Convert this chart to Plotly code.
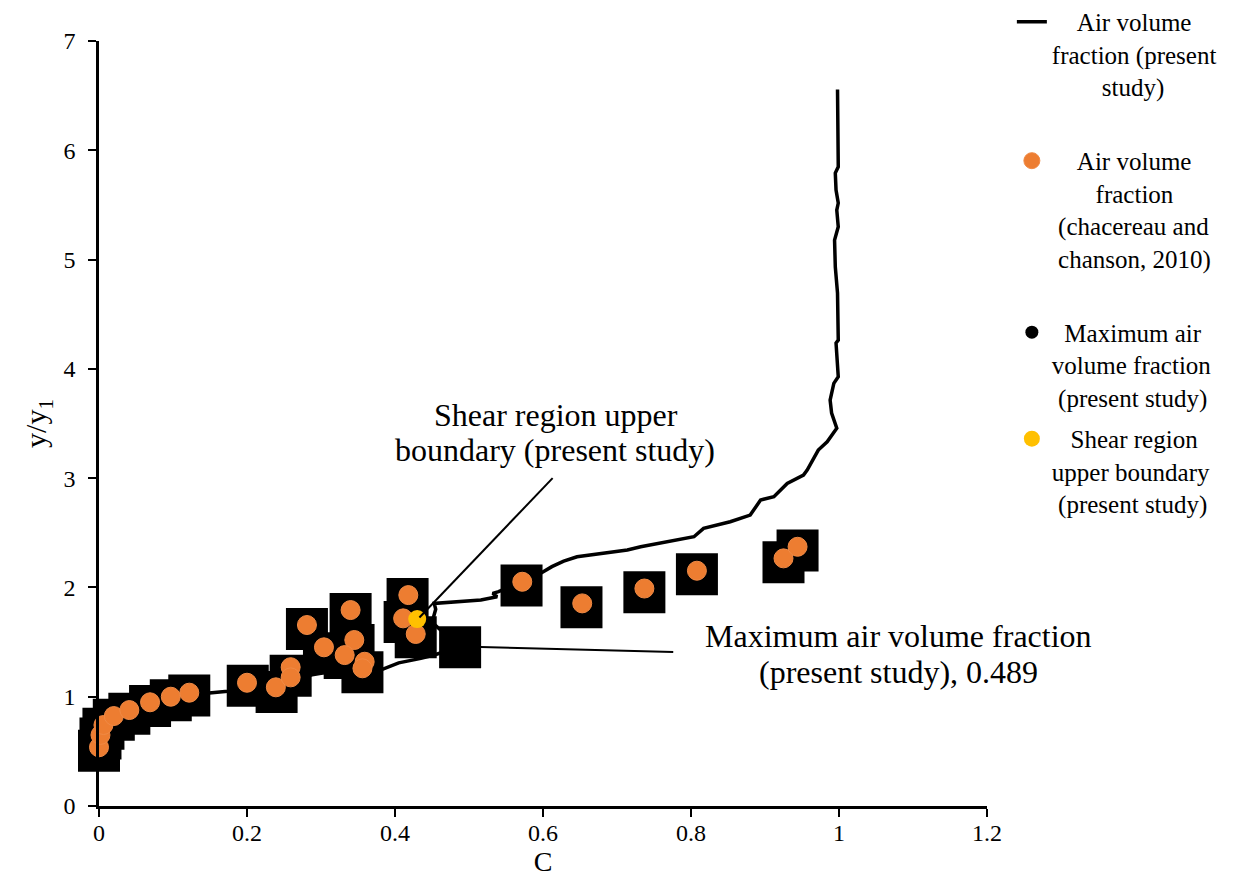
import plotly.graph_objects as go

# Air volume fraction profile (present study)
curve_c = [0.000, 0.003, 0.012, 0.030, 0.060, 0.100, 0.149, 0.174, 0.210, 0.250, 0.288, 0.304,
           0.340, 0.383, 0.405, 0.435, 0.453, 0.489, 0.470, 0.450, 0.455, 0.453, 0.516, 0.538,
           0.532, 0.540, 0.597, 0.612, 0.628, 0.646, 0.714, 0.732, 0.804, 0.817, 0.853, 0.880,
           0.894, 0.912, 0.930, 0.952, 0.957, 0.972, 0.984, 0.997, 0.990, 0.988, 0.993, 0.999,
           0.996, 0.999, 0.998, 0.995, 0.994, 0.999, 0.997, 0.999, 0.996, 0.995, 0.999, 0.998]
curve_y = [0.45, 0.60, 0.72, 0.82, 0.90, 0.96, 1.035, 1.050, 1.080, 1.130, 1.200, 1.220,
           1.225, 1.250, 1.310, 1.351, 1.382, 1.460, 1.560, 1.680, 1.800, 1.854, 1.885, 1.915,
           1.945, 1.961, 2.130, 2.190, 2.240, 2.281, 2.342, 2.372, 2.464, 2.541, 2.601, 2.662,
           2.800, 2.830, 2.952, 3.028, 3.074, 3.257, 3.333, 3.456, 3.596, 3.715, 3.867, 3.928,
           4.236, 4.263, 4.693, 4.934, 5.178, 5.300, 5.453, 5.517, 5.636, 5.792, 5.849, 6.557]

# Chacereau and Chanson (2010) data
chanson_c = [0.000, 0.002, 0.006, 0.020, 0.041, 0.069, 0.097, 0.122,
             0.200, 0.239, 0.259, 0.259, 0.281, 0.304, 0.340, 0.345, 0.332, 0.359, 0.356,
             0.418, 0.411, 0.428, 0.572, 0.653, 0.737, 0.808, 0.925, 0.944]
chanson_y = [0.537, 0.650, 0.741, 0.823, 0.878, 0.949, 1.000, 1.037,
             1.128, 1.086, 1.270, 1.177, 1.656, 1.452, 1.793, 1.519, 1.381, 1.320, 1.260,
             1.930, 1.717, 1.574, 2.052, 1.854, 1.990, 2.153, 2.266, 2.372]

# black square markers
square_c = [0.000, 0.002, 0.006, 0.020, 0.041, 0.069, 0.097, 0.122,
            0.201, 0.240, 0.259, 0.281, 0.304, 0.340, 0.344, 0.332, 0.356,
            0.417, 0.413, 0.428, 0.488, 0.571, 0.652, 0.737, 0.808, 0.925, 0.944]
square_y = [0.505, 0.617, 0.708, 0.790, 0.845, 0.916, 0.967, 1.010,
            1.101, 1.043, 1.192, 1.619, 1.397, 1.757, 1.473, 1.354, 1.223,
            1.894, 1.683, 1.543, 1.452, 2.017, 1.818, 1.955, 2.120, 2.230, 2.338]

# Maximum air volume fraction (present study)
max_c = [0.489]
max_y = [1.46]

# Shear region upper boundary (present study)
shear_c = [0.430]
shear_y = [1.710]

# callout text lines and their anchors (data units), leader tails
shear_lines = ["Shear region upper", "boundary (present study)"]
shear_line_c = [0.618, 0.616]
shear_line_y = [3.577, 3.257]
shear_tail = (0.613, 3.0)
shear_head = (0.433, 1.725)
max_lines = ["Maximum air volume fraction", "(present study), 0.489"]
max_line_c = [1.080, 1.080]
max_line_y = [1.555, 1.226]
max_tail = (0.776, 1.409)

FONT = "Times New Roman, Liberation Serif, serif"
NB = "\u00a0"

def pad(lines, counts):
    return "<br>".join(NB * n + s for s, n in zip(lines, counts))

fig = go.Figure()
fig.add_trace(go.Scatter(
    x=curve_c, y=curve_y, mode="lines", line=dict(color="black", width=3.5),
    name=pad(["Air volume", "fraction (present", "study)", NB], [4, 0, 8, 0]),
    legendgroup="a", legendrank=1))
fig.add_trace(go.Scatter(
    x=max_c, y=max_y, mode="markers", marker=dict(color="black", size=13),
    name=pad(["Maximum air", "volume fraction", "(present study)"], [2, 0, 1]),
    legendgroup="c", legendrank=3))
fig.add_trace(go.Scatter(
    x=square_c, y=square_y, mode="markers", cliponaxis=False,
    marker=dict(color="black", size=42, symbol="square"),
    showlegend=False, hoverinfo="skip"))
fig.add_trace(go.Scatter(
    x=chanson_c, y=chanson_y, mode="markers", cliponaxis=False,
    marker=dict(color="#ED7D31", size=19, line=dict(color="#F08A45", width=1)),
    name=pad(["Air volume", "fraction", "(chacereau and", "chanson, 2010)", NB], [4, 7, 1, 1, 0]),
    legendgroup="b", legendrank=2))
fig.add_trace(go.Scatter(
    x=shear_c, y=shear_y, mode="markers",
    marker=dict(color="#FFC000", size=18),
    name=pad(["Shear region", "upper boundary", "(present study)"], [3, 0, 1]),
    legendgroup="d", legendrank=4))

axis_common = dict(showline=True, linecolor="black", linewidth=2.5, showgrid=False,
                   zeroline=False, ticks="outside", ticklen=8, tickwidth=2, tickcolor="black",
                   tickfont=dict(family=FONT, size=24, color="black"))
fig.update_xaxes(range=[0, 1.2], dtick=0.2, tick0=0, ticklabelstandoff=-5,
                 title=dict(text="C", font=dict(family=FONT, size=28, color="black"), standoff=10),
                 **axis_common)
fig.update_yaxes(range=[0, 7], dtick=1, tick0=0, ticklabelstandoff=8,
                 title=dict(text="y/y<sub>1</sub>", font=dict(family=FONT, size=30, color="black"), standoff=8),
                 **axis_common)

for txt, cx, cy in zip(shear_lines, shear_line_c, shear_line_y):
    fig.add_annotation(x=cx, y=cy, xref="x", yref="y", showarrow=False, text=txt,
                       font=dict(family=FONT, size=32, color="black"))
for txt, cx, cy in zip(max_lines, max_line_c, max_line_y):
    fig.add_annotation(x=cx, y=cy, xref="x", yref="y", showarrow=False, text=txt,
                       font=dict(family=FONT, size=32, color="black"))

# leader lines
fig.add_shape(type="line", xref="x", yref="y", x0=shear_tail[0], y0=shear_tail[1],
              x1=shear_head[0], y1=shear_head[1], line=dict(color="black", width=2), layer="above")
fig.add_shape(type="line", xref="x", yref="y", x0=max_tail[0], y0=max_tail[1],
              x1=max_c[0], y1=max_y[0], line=dict(color="black", width=2), layer="below")

fig.update_layout(
    width=1231, height=869,
    margin=dict(l=91, r=252, t=33, b=71, autoexpand=False),
    plot_bgcolor="white", paper_bgcolor="white",
    font=dict(family=FONT, color="black"),
    legend=dict(x=1.028, xanchor="left", y=1.055, yanchor="top", valign="top",
                font=dict(family=FONT, size=25, color="black"), maxheight=900,
                tracegroupgap=6, bgcolor="rgba(0,0,0,0)"),
)

fig.write_html("out.html")
